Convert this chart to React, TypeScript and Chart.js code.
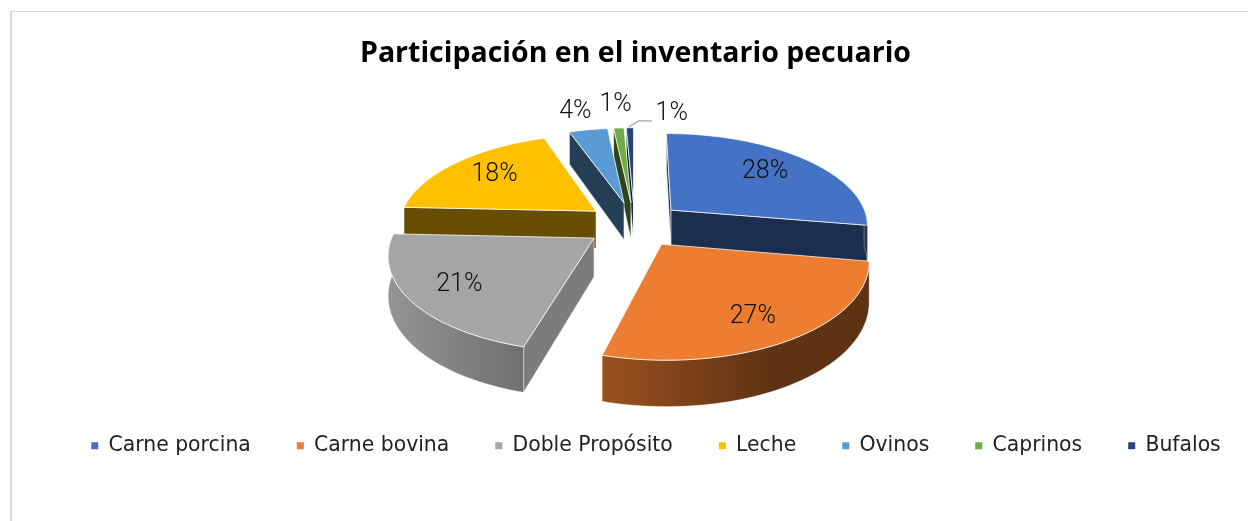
import React, { useEffect, useRef } from "react";
import { Chart, registerables } from "chart.js";

Chart.register(...registerables);

const categories = ["Carne porcina", "Carne bovina", "Doble Propósito", "Leche", "Ovinos", "Caprinos", "Bufalos"];
const shares = [27.7, 26.6, 21.4, 18.9, 3.7, 1.0, 0.7];
const shareLabels = ["28%", "27%", "21%", "18%", "4%", "1%", "1%"];
const colours = ["#4472C4", "#ED7D31", "#A5A5A5", "#FFC000", "#5B9BD5", "#70AD47", "#264478"];
const explode = [35, 35, 35, 35, 35, 35, 35];
const chartTitle = "Participación en el inventario pecuario";

const labelRadius = [0.71, 0.73, 0.74, 0.73, 1.4, 1.42, 1.4];
const labelNudge = [[-2, -1], [0, 6], [-2, 2], [3, 0], [-1, 6], [1, 3], [43, 11]];
const leaderOn = [false, false, false, false, false, false, true];
const flatTone = [0.4, 0.4, 0.75, 0.4, 0.4, 0.4, 0.4];
const rimTone = [[0.4, 0.4, 1], [0.65, 0.4, 0.63], [0.9, 0.67, 1], [0.4, 0.4, 1], [0.4, 0.4, 1], [0.4, 0.4, 1], [0.4, 0.4, 1]];

const VIEW = { rx: 198, ry: 92, k: 0.15, depth: 38, shiftX: -1, shiftY: -6 };
const LEGEND_SHIFT = 20.5;

function tone(hex: string, f: number) {
  const n = parseInt(hex.slice(1), 16);
  const c = [(n >> 16) & 255, (n >> 8) & 255, n & 255].map((v) => Math.round(v * f));
  return `rgb(${c[0]},${c[1]},${c[2]})`;
}

const pie3d = {
  id: "pie3d",
  afterLayout(chart: any) {
    chart.legend.left += LEGEND_SHIFT;
    chart.legend.right += LEGEND_SHIFT;
  },
  beforeDatasetsDraw(chart: any) {
    const ctx: CanvasRenderingContext2D = chart.ctx;
    const arcs: any[] = chart.getDatasetMeta(0).data;
    const cx = arcs[0].x + VIEW.shiftX;
    const cy = arcs[0].y + VIEW.shiftY;
    const R = arcs[0].outerRadius;
    const project = (u: number, v: number, low = 0) => {
      const sc = 1 / (1 + VIEW.k * v);
      return [cx + VIEW.rx * u * sc, cy - VIEW.ry * v * sc + low * VIEW.depth * sc];
    };
    const poly = (pts: number[][], fill: any, edge = "rgba(255,255,255,0.6)") => {
      ctx.beginPath();
      pts.forEach((p, i) => (i ? ctx.lineTo(p[0], p[1]) : ctx.moveTo(p[0], p[1])));
      ctx.closePath();
      ctx.fillStyle = fill;
      ctx.fill();
      ctx.strokeStyle = edge;
      ctx.lineWidth = 1;
      ctx.stroke();
    };
    const info = arcs.map((a, i) => {
      const t0 = a.startAngle + Math.PI / 2;
      const t1 = a.endAngle + Math.PI / 2;
      const mid = (t0 + t1) / 2;
      const d = a.options.offset / R;
      return { i, t0, t1, mid, du: d * Math.sin(mid), dv: d * Math.cos(mid) };
    });
    const camV = -1 / VIEW.k;
    [...info].sort((a, b) => Math.cos(b.mid) - Math.cos(a.mid)).forEach((s) => {
      const col = arcs[s.i].options.backgroundColor;
      const rim: number[][] = [];
      const steps = Math.max(4, Math.ceil((s.t1 - s.t0) / 0.03));
      for (let n = 0; n <= steps; n++) {
        const t = s.t0 + ((s.t1 - s.t0) * n) / steps;
        rim.push([s.du + Math.sin(t), s.dv + Math.cos(t), t]);
      }
      const apex = [s.du, s.dv];
      const radial = (nu: number, nv: number, end: number[]) => {
        if (nu * (0 - apex[0]) + nv * (camV - apex[1]) > 0) {
          poly([project(apex[0], apex[1]), project(end[0], end[1]), project(end[0], end[1], 1), project(apex[0], apex[1], 1)], tone(col, flatTone[s.i]));
        }
      };
      radial(-Math.cos(s.t0), Math.sin(s.t0), rim[0]);
      radial(Math.cos(s.t1), -Math.sin(s.t1), rim[rim.length - 1]);
      const front = rim.filter((p) => Math.cos(p[2]) < 0.02);
      if (front.length > 1) {
        const top = front.map((p) => project(p[0], p[1]));
        const low = front.map((p) => project(p[0], p[1], 1)).reverse();
        const xs = top.map((p) => p[0]);
        const g = ctx.createLinearGradient(Math.min(...xs), 0, Math.max(...xs), 0);
        const [a, b, at] = rimTone[s.i];
        g.addColorStop(0, tone(col, a));
        g.addColorStop(at, tone(col, b));
        g.addColorStop(1, tone(col, b));
        poly([...top, ...low], g, "rgba(255,255,255,0.35)");
      }
      poly([project(apex[0], apex[1]), ...rim.map((p) => project(p[0], p[1]))], col, "rgba(255,255,255,0.75)");
    });
    ctx.font = "300 25px Roboto";
    ctx.textAlign = "center";
    ctx.textBaseline = "middle";
    info.forEach((s) => {
      const f = labelRadius[s.i];
      const p = project(s.du + f * Math.sin(s.mid), s.dv + f * Math.cos(s.mid));
      const [nx, ny] = labelNudge[s.i];
      if (leaderOn[s.i]) {
        const r = project(s.du + Math.sin(s.mid), s.dv + Math.cos(s.mid));
        ctx.beginPath();
        ctx.moveTo(p[0] + nx - 20, p[1] + ny + 7);
        ctx.lineTo(p[0] + nx - 33, p[1] + ny + 7);
        ctx.lineTo(r[0] - 1, r[1] - 1);
        ctx.strokeStyle = "#a6a6a6";
        ctx.lineWidth = 1.2;
        ctx.stroke();
      }
      ctx.fillStyle = "#111";
      ctx.fillText(shareLabels[s.i], p[0] + nx, p[1] + ny);
    });
    return false;
  },
};

export default function App() {
  const ref = useRef<HTMLCanvasElement>(null);
  useEffect(() => {
    document.body.style.background = "#fff";
    const chart = new Chart(ref.current as HTMLCanvasElement, {
      type: "pie",
      data: {
        labels: categories,
        datasets: [{ data: shares, backgroundColor: colours, borderWidth: 0, offset: explode }],
      },
      options: {
        animation: false,
        responsive: false,
        events: [],
        layout: { padding: { left: 23, right: 0, top: 0, bottom: 55 } },
        plugins: {
          tooltip: { enabled: false },
          title: {
            display: true,
            text: chartTitle,
            color: "#000",
            font: { family: "Open Sans", size: 28.5, weight: "bold" },
            padding: { top: 37, bottom: 0 },
          },
          legend: {
            position: "bottom",
            labels: {
              boxWidth: 7,
              boxHeight: 7,
              padding: 46,
              color: "#222",
              font: { family: "DejaVu Sans", size: 20.4 },
            },
          },
        },
      },
      plugins: [pie3d],
    } as any);
    return () => chart.destroy();
  }, []);
  return (
    <div style={{ position: "fixed", left: 0, top: 0, width: 1248, height: 521, overflow: "hidden", background: "#fff" }}>
      <div style={{ position: "absolute", left: 10, top: 11, width: 1300, height: 600, borderLeft: "2px solid #d9d9d9", borderTop: "1px solid #d9d9d9" }} />
      <canvas ref={ref} width={1248} height={521} style={{ position: "absolute", left: 0, top: 0 }} />
    </div>
  );
}
